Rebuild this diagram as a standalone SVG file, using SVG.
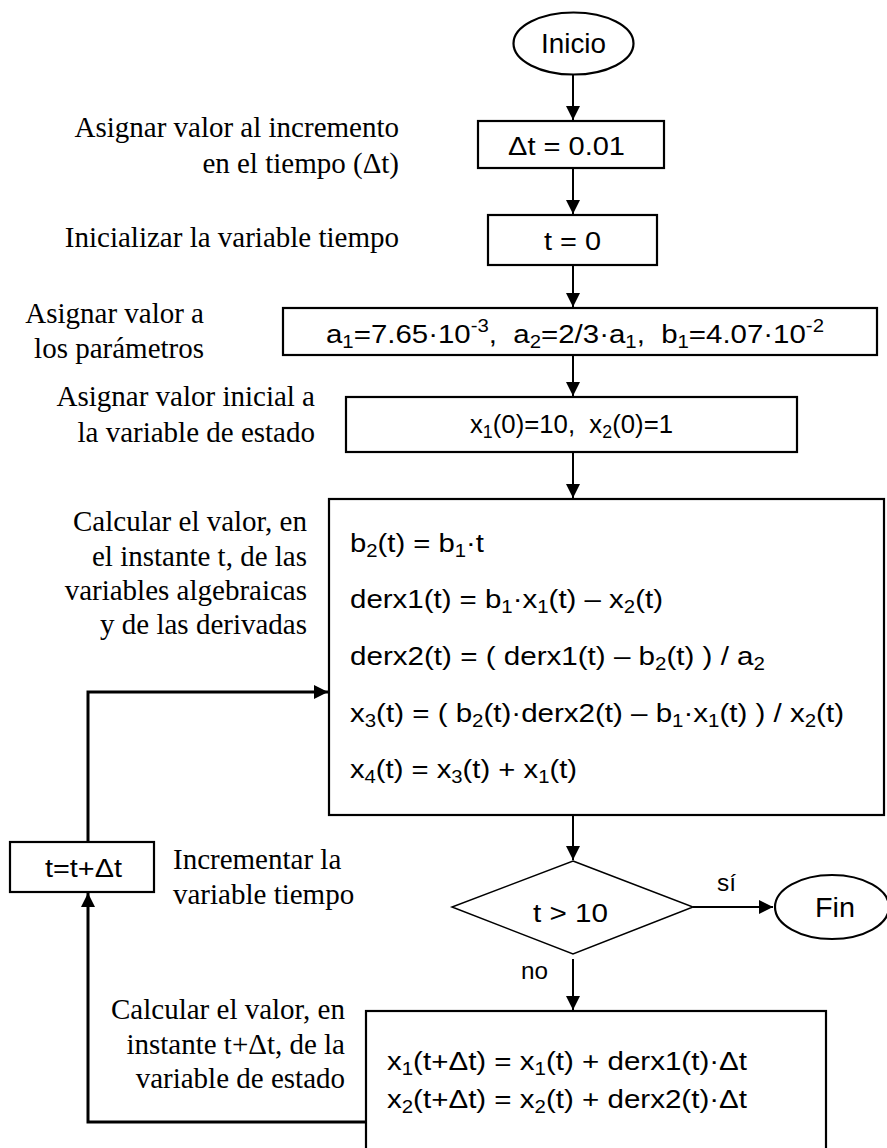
<svg xmlns="http://www.w3.org/2000/svg" width="887" height="1148" viewBox="0 0 887 1148">
<defs>
<style>
.box{fill:#fff;stroke:#000;stroke-width:2.2}
.dia{fill:#fff;stroke:#000;stroke-width:1.5}
.sans{font-family:"Liberation Sans",Arial,sans-serif;fill:#000}
.serif{font-family:"Liberation Serif","Times New Roman",serif;font-size:29px;fill:#000}
.con{fill:none;stroke:#000;stroke-width:2}
.loop{fill:none;stroke:#000;stroke-width:3}
.sub{font-size:18px}
</style>
<marker id="arr" markerWidth="14" markerHeight="14" refX="14" refY="7" orient="auto" markerUnits="userSpaceOnUse">
<path d="M0,0 L14,7 L0,14 z" fill="#000"/>
</marker>
</defs>

<g id="connectors">
<line class="con" x1="573" y1="75" x2="573" y2="120" marker-end="url(#arr)"/>
<line class="con" x1="573" y1="168" x2="573" y2="214" marker-end="url(#arr)"/>
<line class="con" x1="573" y1="265" x2="573" y2="307" marker-end="url(#arr)"/>
<line class="con" x1="573" y1="355" x2="573" y2="396" marker-end="url(#arr)"/>
<line class="con" x1="573" y1="452" x2="573" y2="498" marker-end="url(#arr)"/>
<line class="con" x1="573" y1="815" x2="573" y2="860" marker-end="url(#arr)"/>
<line class="con" x1="693" y1="907" x2="773" y2="907" marker-end="url(#arr)"/>
<line class="con" x1="573" y1="959" x2="573" y2="1010" marker-end="url(#arr)"/>
<polyline class="loop" points="366,1122 88,1122 88,893" marker-end="url(#arr)"/>
<polyline class="loop" points="88,842 88,692 328,692" marker-end="url(#arr)"/>
<text class="sans" x="717" y="891" style="font-size:24px" textLength="19" lengthAdjust="spacingAndGlyphs">sí</text>
<text class="sans" x="521" y="979" style="font-size:24px" textLength="27" lengthAdjust="spacingAndGlyphs">no</text>
</g>

<g id="inicio">
<ellipse class="box" cx="573.5" cy="43.5" rx="60" ry="31"/>
<text class="sans" x="541" y="53" style="font-size:27px" textLength="65" lengthAdjust="spacingAndGlyphs">Inicio</text>
</g>

<g id="dt">
<rect class="box" x="478" y="121" width="186" height="47"/>
<text class="sans" x="508" y="155" style="font-size:26px" textLength="117" lengthAdjust="spacingAndGlyphs">Δt = 0.01</text>
<text class="serif" x="399" y="137" text-anchor="end">Asignar valor al incremento</text>
<text class="serif" x="399" y="173" text-anchor="end">en el tiempo (Δt)</text>
</g>

<g id="t0">
<rect class="box" x="488" y="215" width="169" height="50"/>
<text class="sans" x="544" y="250" style="font-size:26px" textLength="57" lengthAdjust="spacingAndGlyphs">t = 0</text>
<text class="serif" x="399" y="247" text-anchor="end">Inicializar la variable tiempo</text>
</g>

<g id="params">
<rect class="box" x="283" y="308" width="594" height="47"/>
<text class="sans" x="326" y="343" style="font-size:26px" textLength="498" lengthAdjust="spacingAndGlyphs" xml:space="preserve">a<tspan class="sub" dy="5">1</tspan><tspan dy="-5">=7.65·10</tspan><tspan class="sub" dy="-11">-3</tspan><tspan dy="11">,  a</tspan><tspan class="sub" dy="5">2</tspan><tspan dy="-5">=2/3·a</tspan><tspan class="sub" dy="5">1</tspan><tspan dy="-5">,  b</tspan><tspan class="sub" dy="5">1</tspan><tspan dy="-5">=4.07·10</tspan><tspan class="sub" dy="-11">-2</tspan></text>
<text class="serif" x="204" y="323" text-anchor="end">Asignar valor a</text>
<text class="serif" x="204" y="358" text-anchor="end">los parámetros</text>
</g>

<g id="init">
<rect class="box" x="346" y="397" width="451" height="55"/>
<text class="sans" x="470" y="433" style="font-size:26px" textLength="203" lengthAdjust="spacingAndGlyphs" xml:space="preserve">x<tspan class="sub" dy="5">1</tspan><tspan dy="-5">(0)=10,  x</tspan><tspan class="sub" dy="5">2</tspan><tspan dy="-5">(0)=1</tspan></text>
<text class="serif" x="315" y="406" text-anchor="end">Asignar valor inicial a</text>
<text class="serif" x="315" y="442" text-anchor="end">la variable de estado</text>
</g>

<g id="calc">
<rect class="box" x="329" y="499" width="555" height="316"/>
<text class="sans" x="350" y="552" style="font-size:26px" textLength="134" lengthAdjust="spacingAndGlyphs">b<tspan class="sub" dy="5">2</tspan><tspan dy="-5">(t) = b</tspan><tspan class="sub" dy="5">1</tspan><tspan dy="-5">·t</tspan></text>
<text class="sans" x="350" y="608" style="font-size:26px" textLength="313" lengthAdjust="spacingAndGlyphs">derx1(t) = b<tspan class="sub" dy="5">1</tspan><tspan dy="-5">·x</tspan><tspan class="sub" dy="5">1</tspan><tspan dy="-5">(t) – x</tspan><tspan class="sub" dy="5">2</tspan><tspan dy="-5">(t)</tspan></text>
<text class="sans" x="350" y="665" style="font-size:26px" textLength="415" lengthAdjust="spacingAndGlyphs">derx2(t) = ( derx1(t) – b<tspan class="sub" dy="5">2</tspan><tspan dy="-5">(t) ) / a</tspan><tspan class="sub" dy="5">2</tspan></text>
<text class="sans" x="350" y="722" style="font-size:26px" textLength="494" lengthAdjust="spacingAndGlyphs">x<tspan class="sub" dy="5">3</tspan><tspan dy="-5">(t) = ( b</tspan><tspan class="sub" dy="5">2</tspan><tspan dy="-5">(t)·derx2(t) – b</tspan><tspan class="sub" dy="5">1</tspan><tspan dy="-5">·x</tspan><tspan class="sub" dy="5">1</tspan><tspan dy="-5">(t) ) / x</tspan><tspan class="sub" dy="5">2</tspan><tspan dy="-5">(t)</tspan></text>
<text class="sans" x="350" y="778" style="font-size:26px" textLength="227" lengthAdjust="spacingAndGlyphs">x<tspan class="sub" dy="5">4</tspan><tspan dy="-5">(t) = x</tspan><tspan class="sub" dy="5">3</tspan><tspan dy="-5">(t) + x</tspan><tspan class="sub" dy="5">1</tspan><tspan dy="-5">(t)</tspan></text>
<text class="serif" x="307" y="531" text-anchor="end">Calcular el valor, en</text>
<text class="serif" x="307" y="566" text-anchor="end">el instante t, de las</text>
<text class="serif" x="307" y="600" text-anchor="end">variables algebraicas</text>
<text class="serif" x="307" y="634" text-anchor="end">y de las derivadas</text>
</g>

<g id="decision">
<polygon class="dia" points="573,861 693,907 573,954 452,907"/>
<text class="sans" x="533" y="922" style="font-size:26px" textLength="75" lengthAdjust="spacingAndGlyphs">t &gt; 10</text>
</g>

<g id="fin">
<ellipse class="box" cx="832" cy="907" rx="57" ry="32"/>
<text class="sans" x="815" y="917" style="font-size:27px" textLength="40" lengthAdjust="spacingAndGlyphs">Fin</text>
</g>

<g id="incr">
<rect class="box" x="10" y="842" width="144" height="50"/>
<text class="sans" x="45" y="877" style="font-size:26px" textLength="77" lengthAdjust="spacingAndGlyphs">t=t+Δt</text>
<text class="serif" x="173" y="869">Incrementar la</text>
<text class="serif" x="173" y="904">variable tiempo</text>
</g>

<g id="update">
<rect class="box" x="366" y="1011" width="460" height="150"/>
<text class="sans" x="387" y="1070" style="font-size:26px" textLength="360" lengthAdjust="spacingAndGlyphs">x<tspan class="sub" dy="5">1</tspan><tspan dy="-5">(t+Δt) = x</tspan><tspan class="sub" dy="5">1</tspan><tspan dy="-5">(t) + derx1(t)·Δt</tspan></text>
<text class="sans" x="387" y="1108" style="font-size:26px" textLength="360" lengthAdjust="spacingAndGlyphs">x<tspan class="sub" dy="5">2</tspan><tspan dy="-5">(t+Δt) = x</tspan><tspan class="sub" dy="5">2</tspan><tspan dy="-5">(t) + derx2(t)·Δt</tspan></text>
<text class="serif" x="345" y="1019" text-anchor="end">Calcular el valor, en</text>
<text class="serif" x="345" y="1054" text-anchor="end">instante t+Δt, de la</text>
<text class="serif" x="345" y="1088" text-anchor="end">variable de estado</text>
</g>
</svg>
